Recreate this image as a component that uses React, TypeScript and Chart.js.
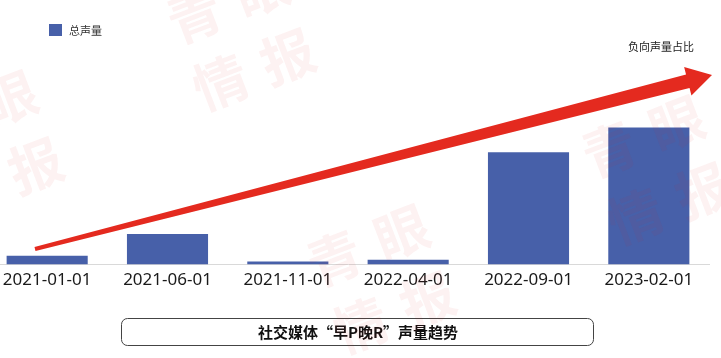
import React, { useEffect, useRef } from "react";
import { Chart, registerables } from "chart.js";

Chart.register(...registerables);

const categories = [
  "2021-01-01",
  "2021-06-01",
  "2021-11-01",
  "2022-04-01",
  "2022-09-01",
  "2023-02-01",
];
const totalVolume = [650, 2250, 220, 360, 8230, 10050];
const seriesLabel = "总声量";
const arrowLabel = "负向声量占比";
const chartTitle = "社交媒体“早P晚R”声量趋势";
const watermarkChars = ["青", "眼", "情", "报"];

const BAR_COLOR = "#4760a9";
const ARROW_COLOR = "#e42a1f";
const CJK = "'Noto Sans CJK SC', 'Noto Sans', sans-serif";
const SHIFT = 13;

const decorPlugin = {
  id: "decor",
  afterDraw(chart: any) {
    const ctx: CanvasRenderingContext2D = chart.ctx;
    ctx.save();
    ctx.translate(SHIFT, 0);

    // legend
    ctx.fillStyle = BAR_COLOR;
    ctx.fillRect(49, 24, 13, 12);
    ctx.fillStyle = "#333";
    ctx.font = `11px ${CJK}`;
    ctx.textBaseline = "middle";
    ctx.textAlign = "left";
    ctx.fillText(seriesLabel, 69, 30.5);

    // arrow label
    ctx.textAlign = "right";
    ctx.fillStyle = "#222";
    ctx.font = `11px ${CJK}`;
    ctx.fillText(arrowLabel, 694, 47);

    // arrow
    const T = { x: 35, y: 249 };
    const P = { x: 712, y: 75 };
    const dx = P.x - T.x, dy = P.y - T.y;
    const L = Math.hypot(dx, dy);
    const u = { x: dx / L, y: dy / L };
    const n = { x: -u.y, y: u.x };
    const B = { x: P.x - 25 * u.x, y: P.y - 25 * u.y };
    const pt = (o: any, k: number) => [o.x + n.x * k, o.y + n.y * k];
    const poly = [
      pt(T, 2),
      pt(B, 7),
      pt(B, 14.7),
      [P.x, P.y],
      pt(B, -14.7),
      pt(B, -7),
      pt(T, -2),
    ];
    ctx.beginPath();
    ctx.moveTo(poly[0][0], poly[0][1]);
    for (let i = 1; i < poly.length; i++) ctx.lineTo(poly[i][0], poly[i][1]);
    ctx.closePath();
    ctx.fillStyle = ARROW_COLOR;
    ctx.fill();

    // title box
    ctx.beginPath();
    (ctx as any).roundRect(121.5, 318.5, 472, 27, 6);
    ctx.strokeStyle = "#444";
    ctx.lineWidth = 1;
    ctx.stroke();
    ctx.fillStyle = "#111";
    ctx.textAlign = "center";
    ctx.font = `bold 15px ${CJK}`;
    ctx.fillText(chartTitle, 358, 332);

    // watermark
    const blocks = [
      [241, 36],
      [656, 170],
      [-11, 145],
      [381, 279],
    ];
    const s = 72;
    ctx.fillStyle = "rgba(225,40,40,0.06)";
    ctx.font = `bold 54px ${CJK}`;
    ctx.textAlign = "center";
    ctx.textBaseline = "middle";
    blocks.forEach(([cx, cy]) => {
      ctx.save();
      ctx.translate(cx, cy);
      ctx.rotate(-0.367);
      ctx.fillText(watermarkChars[0], -s / 2, -s / 2);
      ctx.fillText(watermarkChars[1], s / 2, -s / 2);
      ctx.fillText(watermarkChars[2], -s / 2, s / 2);
      ctx.fillText(watermarkChars[3], s / 2, s / 2);
      ctx.restore();
    });

    ctx.restore();
  },
};

export default function App() {
  const ref = useRef<HTMLCanvasElement>(null);
  useEffect(() => {
    if (!ref.current) return;
    const chart = new Chart(ref.current, {
      type: "bar",
      data: {
        labels: categories,
        datasets: [
          {
            label: seriesLabel,
            data: totalVolume,
            backgroundColor: BAR_COLOR,
            barPercentage: 0.674,
            categoryPercentage: 1,
          },
        ],
      },
      options: {
        animation: false,
        responsive: true,
        maintainAspectRatio: false,
        layout: { padding: { left: 0, right: 12, top: 60, bottom: 63 } },
        plugins: {
          legend: { display: false },
          title: { display: false },
          tooltip: { enabled: false },
        },
        scales: {
          x: {
            grid: { display: true, drawOnChartArea: false, drawTicks: false },
            border: { display: true, color: "#d9d9d9", width: 1 },
            ticks: {
              color: "#1a1a1a",
              padding: 5,
              maxRotation: 0,
              autoSkip: false,
              font: { family: "'Noto Sans', sans-serif", size: 17 },
            },
          },
          y: { display: false, min: 0, max: 15000 },
        },
      },
      plugins: [decorPlugin],
    });
    return () => chart.destroy();
  }, []);
  return (
    <div
      style={{
        position: "fixed",
        left: -SHIFT,
        top: 0,
        width: 721 + SHIFT,
        height: 358,
        background: "#fff",
      }}
    >
      <canvas ref={ref} />
    </div>
  );
}
